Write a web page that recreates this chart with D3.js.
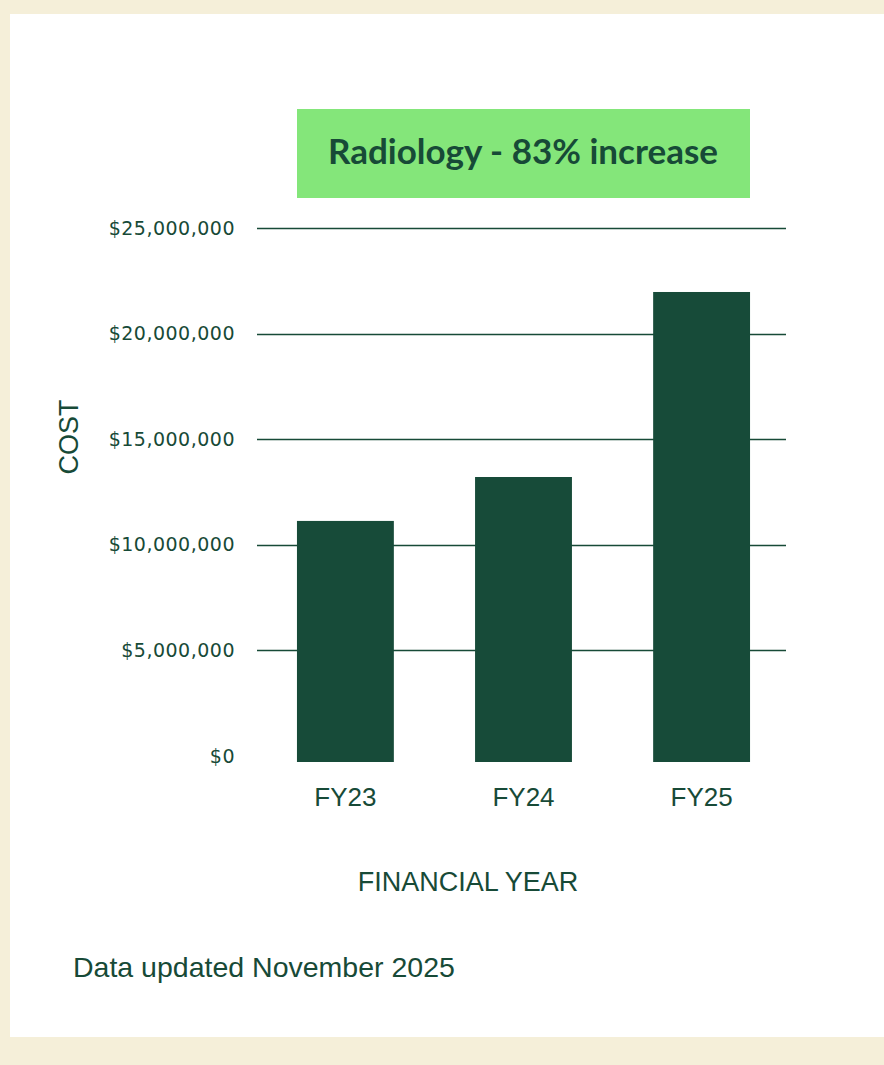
<!DOCTYPE html>
<html>
<head>
<meta charset="utf-8"/>
<title>Radiology cost</title>
<script src="https://d3js.org/d3.v7.min.js"></script>
<style>
body{ margin:0; background:#f5efd9; }
#chart svg{ display:block; }
</style>
</head>
<body>
<div id="chart"></div>
<script>
var years = ["FY23", "FY24", "FY25"];
var costs = [11130000, 13210000, 21970000];
var yTicks = [0, 5000000, 10000000, 15000000, 20000000, 25000000];
var titleText = "Radiology - 83% increase";
var xTitle = "FINANCIAL YEAR";
var yTitle = "COST";
var note = "Data updated November 2025";

var width = 884, height = 1065;
var ink = "#174a37";

var svg = d3.select("#chart").append("svg")
	.attr("width", width)
	.attr("height", height);

svg.append("rect")
	.attr("x", 0).attr("y", 0)
	.attr("width", width).attr("height", height)
	.attr("fill", "#f5efd9");

// white card
svg.append("rect")
	.attr("x", 10).attr("y", 14)
	.attr("width", width - 10).attr("height", 1023)
	.attr("fill", "#ffffff");

var x = d3.scaleBand()
	.domain(years)
	.range([256, 791])
	.paddingInner(0.456)
	.paddingOuter(0.23);

var y = d3.scaleLinear()
	.domain([0, 25000000])
	.range([756, 228]);

var fmt = function(d){ return "$" + d3.format(",")(d); };

// grid lines (no line at zero)
svg.append("g")
	.selectAll("line")
	.data(yTicks.filter(function(d){ return d > 0; }))
	.join("line")
	.attr("x1", 257).attr("x2", 786)
	.attr("y1", function(d){ return Math.round(y(d)) + 0.5; })
	.attr("y2", function(d){ return Math.round(y(d)) + 0.5; })
	.attr("stroke", ink)
	.attr("stroke-width", 1.4);

// y axis labels
var yAxis = d3.axisLeft(y)
	.tickValues(yTicks)
	.tickFormat(fmt)
	.tickSize(0)
	.tickPadding(0);

var yg = svg.append("g")
	.attr("transform", "translate(235,0)")
	.call(yAxis);
yg.select(".domain").remove();
yg.selectAll("text")
	.attr("fill", ink)
	.style("font-family", "'DejaVu Sans', sans-serif")
	.style("font-size", "19px")
	.style("letter-spacing", "0.5px");

// bars
svg.append("g")
	.selectAll("rect")
	.data(years)
	.join("rect")
	.attr("x", function(d){ return x(d); })
	.attr("width", x.bandwidth())
	.attr("y", function(d, i){ return y(costs[i]); })
	.attr("height", function(d, i){ return y(0) - y(costs[i]) + 6; })
	.attr("fill", "#174b39");

// x axis labels
var xAxis = d3.axisBottom(x).tickSize(0).tickPadding(0);
var xg = svg.append("g")
	.attr("transform", "translate(0,788)")
	.call(xAxis);
xg.select(".domain").remove();
xg.selectAll("text")
	.attr("fill", ink)
	.attr("dy", "0.71em")
	.style("font-family", "'Liberation Sans', Arial, sans-serif")
	.style("font-size", "26px");

// axis titles
svg.append("text")
	.attr("x", 468).attr("y", 891)
	.attr("text-anchor", "middle")
	.attr("fill", ink)
	.style("font-family", "'Liberation Sans', Arial, sans-serif")
	.style("font-size", "27px")
	.text(xTitle);

svg.append("text")
	.attr("transform", "translate(78,437) rotate(-90)")
	.attr("text-anchor", "middle")
	.attr("fill", ink)
	.style("font-family", "'Liberation Sans', Arial, sans-serif")
	.style("font-size", "27px")
	.text(yTitle);

// title box
svg.append("rect")
	.attr("x", 297).attr("y", 109)
	.attr("width", 453).attr("height", 89)
	.attr("fill", "#84e67a");

svg.append("text")
	.attr("x", 523).attr("y", 164)
	.attr("text-anchor", "middle")
	.attr("fill", ink)
	.style("font-family", "Lato, sans-serif")
	.style("font-weight", "bold")
	.style("font-size", "35px")
	.text(titleText);

// footnote
svg.append("text")
	.attr("x", 73).attr("y", 977)
	.attr("fill", ink)
	.style("font-family", "'Liberation Sans', Arial, sans-serif")
	.style("font-size", "28.5px")
	.text(note);
</script>
</body>
</html>
